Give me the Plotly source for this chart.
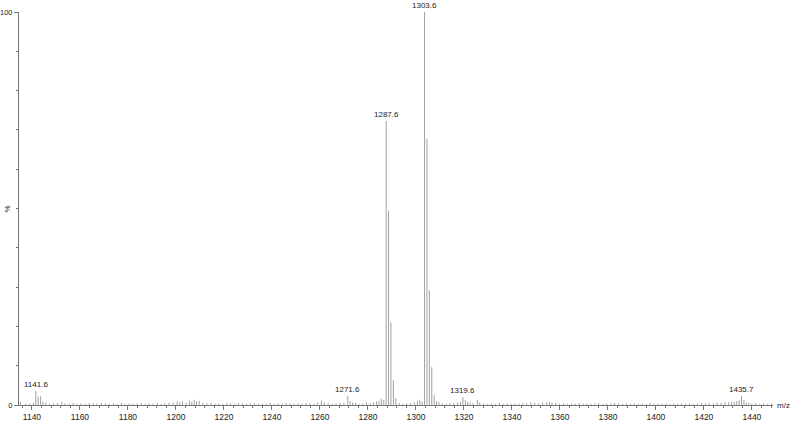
import plotly.graph_objects as go

# ---- data ----
peak_mz = [1141.6, 1142.6, 1143.6, 1144.6,
           1271.6, 1272.6, 1273.6,
           1287.6, 1288.6, 1289.6, 1290.6, 1291.6,
           1303.6, 1304.6, 1305.6, 1306.6, 1307.6, 1308.6,
           1319.6, 1320.6, 1321.6,
           1434.7, 1435.7, 1436.7, 1437.7]
peak_int = [3.6, 2.1, 2.2, 0.9,
            2.3, 1.0, 0.6,
            72.3, 49.5, 21.0, 6.3, 1.8,
            100.0, 67.8, 29.2, 9.6, 2.5, 1.0,
            2.0, 1.2, 0.8,
            1.2, 2.3, 1.3, 0.6]

noise_mz = [1135.2, 1137.4, 1139.1, 1140.6, 1145.8, 1147.3, 1149.0, 1150.6, 1152.4, 1153.7,
            1155.5, 1157.2, 1158.9, 1160.4, 1162.3, 1163.8, 1165.5, 1167.1, 1168.9, 1170.6,
            1172.2, 1173.9, 1175.4, 1177.3, 1178.8, 1180.5, 1182.1, 1183.9, 1185.6, 1187.2,
            1188.8, 1190.5, 1192.3, 1193.9, 1195.4, 1197.1, 1198.8, 1200.5, 1201.6, 1202.7,
            1204.3, 1205.6, 1206.6, 1207.6, 1208.6, 1209.7, 1211.2, 1212.9, 1214.6, 1216.3,
            1217.8, 1219.5, 1221.2, 1222.8, 1224.5, 1226.1, 1227.7, 1229.4, 1231.0, 1232.7,
            1234.4, 1236.0, 1237.6, 1239.3, 1241.0, 1242.6, 1244.3, 1245.9, 1247.6, 1249.2,
            1250.9, 1252.5, 1254.2, 1255.8, 1257.5, 1259.1, 1260.6, 1261.8, 1263.4, 1265.1,
            1266.7, 1268.4, 1270.0, 1274.8, 1276.3, 1277.9, 1279.4, 1280.9, 1282.3, 1283.6,
            1284.6, 1285.6, 1286.6, 1293.0, 1294.6, 1296.2, 1297.8, 1299.4, 1300.6, 1301.6,
            1302.6, 1309.6, 1311.0, 1312.6, 1314.2, 1315.8, 1317.3, 1318.6, 1322.6, 1323.8,
            1325.6, 1326.6, 1328.2, 1329.9, 1331.5, 1333.1, 1334.8, 1336.4, 1338.0, 1339.7,
            1341.3, 1343.0, 1344.6, 1346.2, 1347.9, 1349.5, 1351.2, 1352.8, 1354.5, 1355.6,
            1356.7, 1358.2, 1359.8, 1361.5, 1363.1, 1364.8, 1366.4, 1368.0, 1369.7, 1371.3,
            1373.0, 1374.6, 1376.2, 1377.9, 1379.5, 1381.2, 1382.8, 1384.5, 1386.1, 1387.7,
            1389.4, 1391.0, 1392.7, 1394.3, 1396.0, 1397.6, 1399.2, 1400.9, 1402.5, 1404.2,
            1405.8, 1407.5, 1409.1, 1410.7, 1412.4, 1414.0, 1415.7, 1417.3, 1419.0, 1420.6,
            1422.2, 1423.9, 1425.5, 1427.2, 1428.8, 1430.4, 1431.6, 1432.7, 1433.7, 1438.7,
            1440.0, 1441.6, 1443.3, 1444.9, 1446.6, 1448.2]
noise_int = [0.8, 0.3, 0.4, 0.5, 0.6, 0.3, 0.4, 0.5, 0.7, 0.4,
             0.3, 0.5, 0.3, 0.4, 0.3, 0.5, 0.4, 0.3, 0.5, 0.4,
             0.3, 0.4, 0.3, 0.5, 0.3, 0.4, 0.3, 0.4, 0.5, 0.3,
             0.4, 0.3, 0.5, 0.3, 0.4, 0.5, 0.6, 0.9, 0.7, 1.0,
             0.6, 1.1, 0.8, 1.3, 0.9, 1.0, 0.5, 0.4, 0.5, 0.3,
             0.4, 0.3, 0.5, 0.4, 0.3, 0.5, 0.4, 0.3, 0.4, 0.5,
             0.3, 0.4, 0.3, 0.5, 0.3, 0.4, 0.3, 0.5, 0.4, 0.3,
             0.4, 0.3, 0.5, 0.4, 0.3, 0.6, 1.1, 0.7, 0.4, 0.3,
             0.4, 0.5, 0.6, 0.5, 0.3, 0.4, 0.6, 0.5, 0.7, 0.9,
             1.0, 1.6, 1.3, 0.5, 0.3, 0.4, 0.5, 0.6, 1.0, 1.3,
             0.9, 0.7, 0.4, 0.3, 0.5, 0.4, 0.6, 0.8, 0.6, 0.4,
             1.3, 0.7, 0.4, 0.3, 0.4, 0.3, 0.5, 0.3, 0.4, 0.3,
             0.4, 0.3, 0.5, 0.4, 0.6, 0.5, 0.4, 0.6, 0.7, 0.8,
             0.6, 0.5, 0.3, 0.4, 0.3, 0.4, 0.3, 0.5, 0.3, 0.4,
             0.3, 0.4, 0.5, 0.3, 0.4, 0.3, 0.5, 0.4, 0.3, 0.4,
             0.3, 0.4, 0.3, 0.4, 0.3, 0.5, 0.3, 0.4, 0.3, 0.4,
             0.3, 0.4, 0.3, 0.4, 0.3, 0.4, 0.3, 0.4, 0.5, 0.4,
             0.5, 0.4, 0.6, 0.5, 0.7, 0.8, 0.9, 0.8, 1.0, 0.6,
             0.4, 0.5, 0.3, 0.4, 0.3, 0.4]

label_mz = [1141.6, 1271.6, 1287.6, 1303.6, 1319.6, 1435.7]
label_text = ["1141.6", "1271.6", "1287.6", "1303.6", "1319.6", "1435.7"]

x_ticks = [1140, 1160, 1180, 1200, 1220, 1240, 1260, 1280, 1300, 1320,
           1340, 1360, 1380, 1400, 1420, 1440]
y_ticks = [0, 100]

FONT = "Arial, Liberation Sans, sans-serif"
TXT = "#222222"

# ---- build stick spectrum ----
all_mz = peak_mz + noise_mz
all_int = peak_int + noise_int
xs, ys = [], []
for m, h in zip(all_mz, all_int):
    xs += [m, m, None]
    ys += [0, h, None]

fig = go.Figure()
fig.add_trace(go.Scatter(x=xs, y=ys, mode="lines",
                         line=dict(color="#a0a0a0", width=1),
                         hoverinfo="skip", showlegend=False))

lookup = dict(zip(peak_mz, peak_int))
for m, t in zip(label_mz, label_text):
    fig.add_annotation(x=m, y=lookup[m], text=t, showarrow=False,
                       yanchor="bottom", xanchor="center", yshift=0,
                       font=dict(family=FONT, size=8, color=TXT))

fig.add_annotation(xref="paper", yref="y", x=-0.006, y=50, text="%", textangle=-90,
                   showarrow=False, xanchor="right", yanchor="middle",
                   font=dict(family=FONT, size=8, color=TXT))
fig.add_annotation(xref="paper", yref="y", x=1.002, y=0, text="m/z",
                   showarrow=False, xanchor="left", yanchor="middle",
                   font=dict(family=FONT, size=8, color=TXT))

fig.update_layout(
    width=792, height=421,
    margin=dict(l=19, r=19, t=12, b=16, autoexpand=False),
    paper_bgcolor="white", plot_bgcolor="white",
    font=dict(family=FONT, size=8, color=TXT),
    xaxis=dict(range=[1134.6, 1448.8], tickvals=x_ticks, automargin=False,
               showgrid=False, zeroline=False, showline=True, linecolor="#777777", linewidth=1,
               ticks="outside", ticklen=4, tickcolor="#777777", tickwidth=1,
               tickfont=dict(size=8.5, color=TXT), ticklabelstandoff=0,
               minor=dict(dtick=4, tick0=1140, ticks="outside", ticklen=2, tickcolor="#777777", showgrid=False)),
    yaxis=dict(range=[0, 100], tickvals=y_ticks, automargin=False,
               showgrid=False, zeroline=False, showline=True, linecolor="#777777", linewidth=1,
               ticks="outside", ticklen=4, tickcolor="#777777", tickwidth=1,
               tickfont=dict(size=7.5, color=TXT), ticklabelstandoff=0,
               minor=dict(dtick=10, tick0=0, ticks="outside", ticklen=2, tickcolor="#777777", showgrid=False)),
)

fig.write_html("out.html", config={"displayModeBar": False},
               post_script="document.body.style.margin='0';")
